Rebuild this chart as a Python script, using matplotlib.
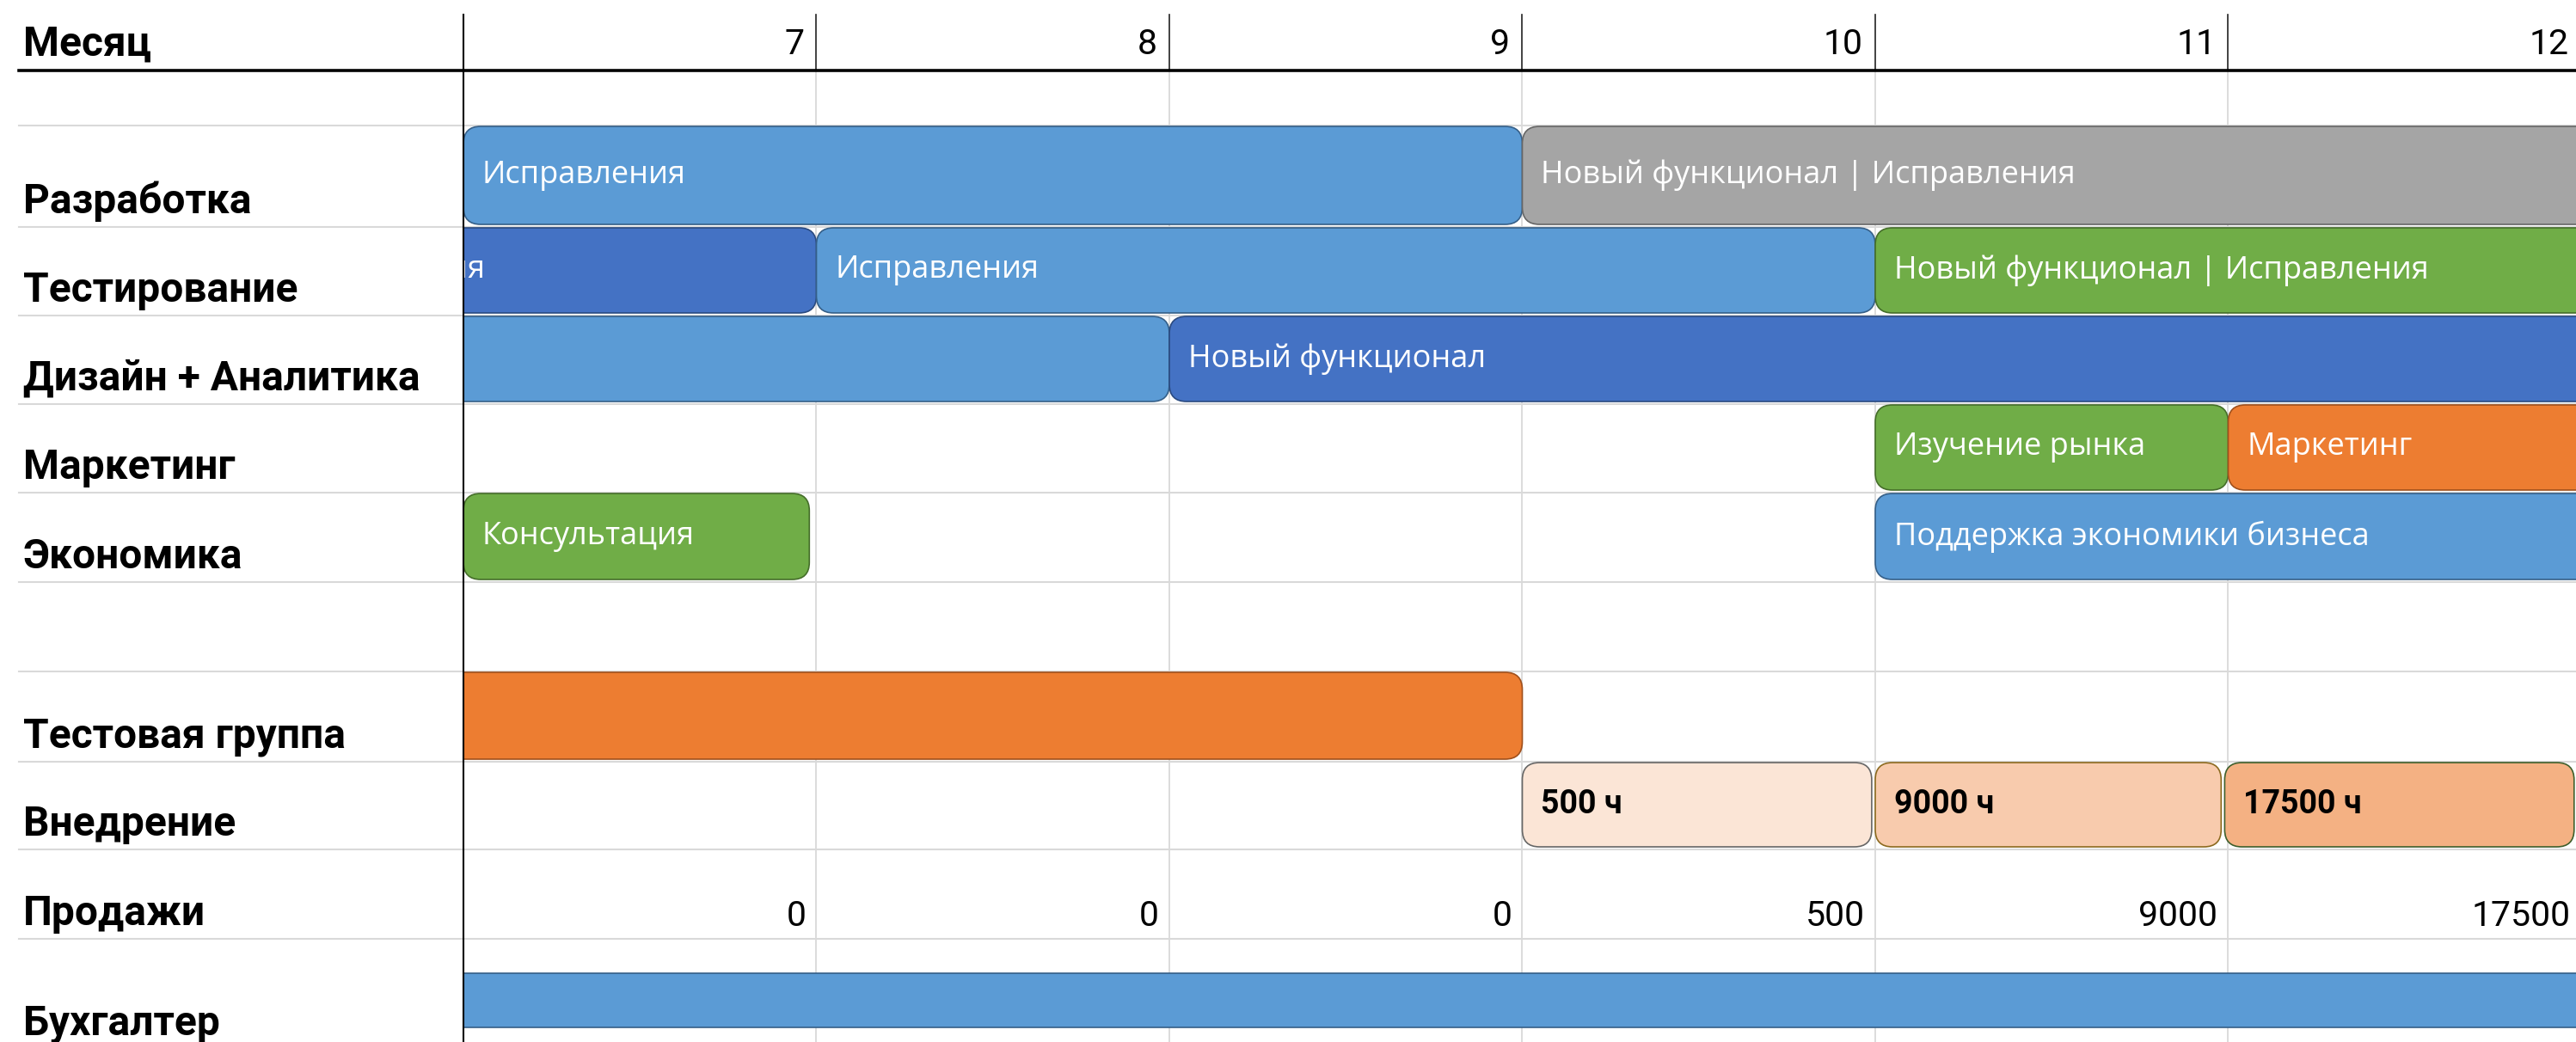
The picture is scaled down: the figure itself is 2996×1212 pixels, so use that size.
import matplotlib
matplotlib.use("Agg")
import matplotlib.pyplot as plt
from matplotlib.patches import FancyBboxPatch
from matplotlib import transforms as mtransforms

# ---------------- data ----------------
months = [7, 8, 9, 10, 11, 12]
header_label = "Месяц"
row_labels = ["", "Разработка", "Тестирование", "Дизайн + Аналитика", "Маркетинг",
              "Экономика", "", "Тестовая группа", "Внедрение", "Продажи", "Бухгалтер"]
sales_row = "Продажи"
sales = [0, 0, 0, 500, 9000, 17500]

task_rows = ["Разработка", "Разработка",
             "Тестирование", "Тестирование", "Тестирование",
             "Дизайн + Аналитика", "Дизайн + Аналитика",
             "Маркетинг", "Маркетинг",
             "Экономика", "Экономика",
             "Тестовая группа",
             "Внедрение", "Внедрение", "Внедрение",
             "Бухгалтер"]
task_start = [7, 10, 6.43, 8, 11, 6, 9, 11, 12, 7, 11, 6, 10, 11, 11.99, 6]
task_end = [10, 13.5, 8, 11, 13.5, 9, 13.5, 12, 13.5, 7.98, 13.5, 10, 10.99, 11.98, 12.98, 13.5]
task_text = ["Исправления", "Новый функционал | Исправления",
             "Исправления", "Исправления", "Новый функционал | Исправления",
             "", "Новый функционал",
             "Изучение рынка", "Маркетинг",
             "Консультация", "Поддержка экономики бизнеса",
             "",
             "500 ч", "9000 ч", "17500 ч",
             ""]
task_style = ["lb", "gray", "db", "lb", "green", "lb", "db", "green", "orange",
              "green", "lb", "orange", "p1", "p2", "p3", "lb"]

# ---------------- styles / layout ----------------
styles = {
    "lb": ("#5B9BD5", "#355F88", "white", "normal"),
    "db": ("#4472C4", "#2A4A80", "white", "normal"),
    "gray": ("#A5A5A5", "#666666", "white", "normal"),
    "green": ("#70AD47", "#456E2A", "white", "normal"),
    "orange": ("#ED7D31", "#A0501C", "white", "normal"),
    "p1": ("#FBE5D6", "#666666", "black", "bold"),
    "p2": ("#F8CBAD", "#8C6A1F", "black", "bold"),
    "p3": ("#F4B183", "#3E5F2C", "black", "bold"),
}

W, H, DPI = 2996, 1212, 100
label_col_px = 539
col_px = 410.5
header_bottom = 82
header_top = 17
row_heights = [64, 118, 103, 103, 103, 104, 104, 105, 102, 104, 127]
bar_inset = {"default": (1, 3), "Бухгалтер": (40, 24)}

plt.rcParams["font.family"] = ["Roboto", "DejaVu Sans"]

fig = plt.figure(figsize=(W / DPI, H / DPI), dpi=DPI)
ax = fig.add_axes([label_col_px / W, 0, 1 - label_col_px / W, 1])
x0 = months[0]
x1 = x0 + (W - label_col_px) / col_px
ax.set_xlim(x0, x1)
ax.set_ylim(H, 0)
ax.axis("off")

blend = mtransforms.blended_transform_factory(fig.transFigure, ax.transData)

# row geometry
row_top = []
y = header_bottom
for h in row_heights:
    row_top.append(y)
    y += h
row_bottom = [t + h for t, h in zip(row_top, row_heights)]

grid_c = "#D9D9D9"
# horizontal grid lines
for yb in row_bottom[:-1]:
    ax.plot([22 / W, 1], [yb, yb], color=grid_c, lw=1.5, transform=blend,
            clip_on=False, zorder=1)
# vertical grid lines
for m in months[1:] + [months[-1] + 1]:
    ax.plot([m, m], [header_bottom, H], color=grid_c, lw=1.3, zorder=1)
    ax.plot([m, m], [header_top, header_bottom], color="#222222", lw=1.2, zorder=5)

# header
ax.plot([22 / W, 1], [header_bottom, header_bottom], color="black", lw=2.6,
        transform=blend, clip_on=False, zorder=6)
ax.plot([x0, x0], [header_top, H], color="black", lw=1.5, clip_on=False, zorder=7)
fig.text(27 / W, header_bottom - 17, header_label, transform=blend, fontsize=34.5,
         fontweight="bold", va="baseline", ha="left")
for m in months:
    ax.text(m + 1 - 14 / col_px, header_bottom - 19, str(m), fontsize=29.5,
            ha="right", va="baseline", clip_on=False)

# row labels
for lbl, yb in zip(row_labels, row_bottom):
    if lbl:
        fig.text(27 / W, yb - 16, lbl, transform=blend, fontsize=34.5,
                 fontweight="bold", va="baseline", ha="left")

# sales numbers
si = row_labels.index(sales_row)
for m, v in zip(months, sales):
    ax.text(m + 1 - 12 / col_px, row_bottom[si] - 15, str(v), fontsize=29.5,
            ha="right", va="baseline")

# bars
r_x = 20 / col_px
text_tr = mtransforms.offset_copy(ax.transData, fig=fig, x=22, y=0, units="dots")
for rname, s, e, txt, st in zip(task_rows, task_start, task_end, task_text, task_style):
    i = row_labels.index(rname)
    it, ib = bar_inset.get(rname, bar_inset["default"])
    top = row_top[i] + it
    bot = row_bottom[i] - ib
    fc, ec, tc, fw = styles[st]
    patch = FancyBboxPatch((s, top), e - s, bot - top,
                           boxstyle=f"round,pad=0,rounding_size={r_x}",
                           mutation_aspect=col_px, facecolor=fc, edgecolor=ec,
                           lw=1.2, zorder=3)
    ax.add_patch(patch)
    if txt:
        if fw == "bold":
            ax.text(s, (top + bot) / 2, txt, transform=text_tr, fontsize=27,
                    fontweight="bold", color=tc, va="center", ha="left",
                    clip_on=True, zorder=4)
        else:
            ax.text(s, (top + bot) / 2, txt, transform=text_tr, fontsize=26,
                    family=["Open Sans", "DejaVu Sans"], color=tc, va="center",
                    ha="left", clip_on=True, zorder=4)

fig.savefig("out.png", dpi=DPI, facecolor="white")
